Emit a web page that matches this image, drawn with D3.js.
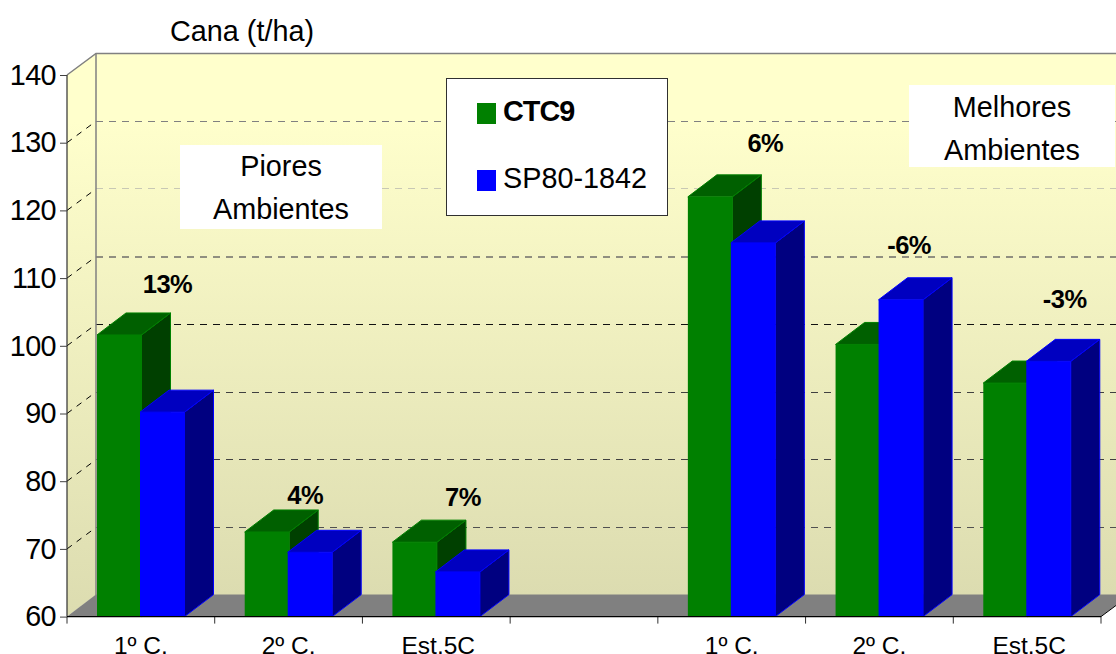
<!DOCTYPE html>
<html>
<head>
<meta charset="utf-8">
<script src="https://cdn.jsdelivr.net/npm/d3@7"></script>
<style>
  html, body { margin: 0; padding: 0; background: #fff; overflow: hidden; }
  svg { display: block; font-family: "Liberation Sans", Arial, sans-serif; }
  .domain { display: none; }
</style>
</head>
<body>
<div id="chart-wrapper"></div>
<script>
// Chart data
const categories = ["1º C.", "2º C.", "Est.5C", "", "1º C.", "2º C.", "Est.5C"];
const seriesNames = ["CTC9", "SP80-1842"];
const ctc9 = [101.6, 72.5, 71, null, 122, 100.2, 94.5];
const sp80 = [90.2, 69.5, 66.6, null, 115.2, 106.8, 97.7];
const diffLabels = ["13%", "4%", "7%", "", "6%", "-6%", "-3%"];
const yTicks = [60, 70, 80, 90, 100, 110, 120, 130, 140];

const initChart = () => {
  const fullWidth = 1116,
    fullHeight = 654,
    left = 67,
    right = 1101,
    top = 75,
    bottom = 616.6,
    depthX = 29,
    depthY = 21.5,
    barDepthY = 22;

  const svg = d3.select("#chart-wrapper").append("svg")
    .attr("width", fullWidth)
    .attr("height", fullHeight);

  const xScale = d3.scaleBand()
    .domain(d3.range(categories.length))
    .range([left, right]);

  const xSeries = d3.scalePoint()
    .domain(seriesNames)
    .range([30, 73]);

  const barWidth = 44.5;

  const yScale = d3.scaleLinear()
    .domain([60, 140])
    .range([bottom, top]);

  const defs = svg.append("defs");
  const grad = defs.append("linearGradient")
    .attr("id", "wall")
    .attr("x1", 0).attr("y1", 0).attr("x2", 0).attr("y2", 1);
  grad.append("stop").attr("offset", "0.12").attr("stop-color", "#ffffcc");
  grad.append("stop").attr("offset", "1").attr("stop-color", "#dcdcb0");

  // Back wall, side wall and floor
  svg.append("rect")
    .attr("x", left + depthX)
    .attr("y", top - depthY)
    .attr("width", fullWidth - left - depthX)
    .attr("height", bottom - top)
    .attr("fill", "url(#wall)");

  svg.append("polygon")
    .attr("points", [
      [left, top], [left + depthX, top - depthY],
      [left + depthX, bottom - depthY], [left, bottom]
    ].join(" "))
    .attr("fill", "url(#wall)");

  svg.append("polygon")
    .attr("points", [
      [left, bottom], [left + depthX, bottom - barDepthY],
      [right + depthX, bottom - barDepthY], [right, bottom]
    ].join(" "))
    .attr("fill", "#808080");

  // Grid lines, the originals look lighter or darker from how they were rasterised
  const gridColor = { 130: "#808080", 120: "#c8c8b4", 110: "#908f80", 100: "#101010", 90: "#404040", 80: "#404040", 70: "#505050" };
  const grid = svg.append("g").attr("fill", "none");
  yTicks.slice(1, -1).forEach(t => {
    grid.append("line")
      .attr("x1", left + depthX).attr("x2", fullWidth)
      .attr("y1", yScale(t) - depthY).attr("y2", yScale(t) - depthY)
      .attr("stroke", gridColor[t])
      .attr("stroke-width", t === 110 ? 2 : 1)
      .attr("shape-rendering", "crispEdges")
      .attr("stroke-dasharray", "7 6");
    grid.append("line")
      .attr("x1", left).attr("x2", left + depthX)
      .attr("y1", yScale(t)).attr("y2", yScale(t) - depthY)
      .attr("stroke", "#000")
      .attr("stroke-dasharray", "6 6");
  });

  // Wall outlines
  svg.append("path")
    .attr("d", d3.line()([
      [left, top], [left + depthX, top - depthY],
      [fullWidth, top - depthY]
    ]))
    .attr("fill", "none")
    .attr("stroke", "#808080")
    .attr("stroke-width", 1.5);
  svg.append("line")
    .attr("x1", left + depthX).attr("x2", left + depthX)
    .attr("y1", top - depthY).attr("y2", bottom - depthY)
    .attr("stroke", "#808080")
    .attr("stroke-width", 1.5);
  svg.append("line")
    .attr("x1", left).attr("x2", left)
    .attr("y1", top).attr("y2", bottom)
    .attr("stroke", "#303030")
    .attr("stroke-width", 1.2);
  svg.append("line")
    .attr("x1", right).attr("x2", fullWidth)
    .attr("y1", bottom).attr("y2", bottom - (fullWidth - right) * depthY / depthX)
    .attr("stroke", "#000");

  // 3D bars
  const seriesStyle = [
    { name: seriesNames[0], values: ctc9, front: "#008000", topFace: "#006000", side: "#004000", edge: "#008000" },
    { name: seriesNames[1], values: sp80, front: "#0000ff", topFace: "#0000c0", side: "#000080", edge: "#0000ff" }
  ];

  const barGroups = svg.append("g").selectAll("g")
    .data(d3.range(categories.length).filter(i => ctc9[i] !== null))
    .enter()
    .append("g");

  barGroups.each(function (i) {
    const g = d3.select(this);
    seriesStyle.forEach(s => {
      const x0 = xScale(i) + xSeries(s.name),
        x1 = x0 + barWidth,
        y0 = yScale(s.values[i]);
      g.append("polygon")
        .attr("points", [[x1, y0], [x1 + depthX, y0 - barDepthY], [x1 + depthX, bottom - barDepthY], [x1, bottom]].join(" "))
        .attr("fill", s.side).attr("stroke", s.edge);
      g.append("polygon")
        .attr("points", [[x0, y0], [x0 + depthX, y0 - barDepthY], [x1 + depthX, y0 - barDepthY], [x1, y0]].join(" "))
        .attr("fill", s.topFace).attr("stroke", s.edge);
      g.append("rect")
        .attr("x", x0).attr("y", y0)
        .attr("width", barWidth).attr("height", bottom - y0)
        .attr("fill", s.front);
    });
  });

  // Axes
  const yAxis = svg.append("g")
    .attr("transform", `translate(${left},0)`)
    .call(d3.axisLeft(yScale).tickValues(yTicks).tickSize(7).tickPadding(2));
  yAxis.selectAll("line").attr("stroke", "#404040");
  yAxis.selectAll("text")
    .attr("font-size", 28.8)
    .attr("font-family", "Liberation Sans")
    .attr("fill", "#000")
    .attr("dx", -2)
    .style("letter-spacing", "-0.6px");

  const xAxis = svg.append("g")
    .attr("transform", `translate(0,${bottom})`)
    .call(d3.axisBottom(xScale).tickSize(0).tickPadding(20).tickFormat(i => categories[i]));
  xAxis.selectAll("text")
    .attr("font-size", 24.5)
    .attr("font-family", "Liberation Sans")
    .attr("dx", i => categories[i].startsWith("Est") ? 2 : 0)
    .attr("fill", "#000");

  const edgeTicks = d3.range(categories.length).map(i => xScale(i)).concat(right);
  svg.append("g").selectAll("line")
    .data(edgeTicks)
    .enter()
    .append("line")
    .attr("x1", d => d).attr("x2", d => d)
    .attr("y1", bottom).attr("y2", bottom + 7)
    .attr("stroke", "#303030");
  svg.append("line")
    .attr("x1", left).attr("x2", right)
    .attr("y1", bottom).attr("y2", bottom)
    .attr("stroke", "#000")
    .attr("stroke-width", 1.2);

  // Percent labels sit a hand placed distance from the taller bar
  const labelShift = [[0, 29], [-10, 14.5], [0, 23.5], null, [7, 32], [-40, 32.5], [-32, 40.5]];
  svg.append("g").selectAll("text")
    .data(d3.range(categories.length).filter(i => diffLabels[i] !== ""))
    .enter()
    .append("text")
    .attr("x", i => xScale(i) + xSeries(seriesNames[0]) + barWidth + depthX - 3 + labelShift[i][0] + (ctc9[i] < sp80[i] ? 43 : 0))
    .attr("y", i => yScale(Math.max(ctc9[i], sp80[i])) - barDepthY - labelShift[i][1])
    .attr("dy", "0.35em")
    .attr("text-anchor", "middle")
    .attr("font-size", 25.5)
    .attr("font-weight", "bold")
    .attr("letter-spacing", "-0.5")
    .text(i => diffLabels[i]);

  // Title
  svg.append("text")
    .attr("x", 170).attr("y", 41)
    .attr("font-size", 28.8)
    .text("Cana (t/ha)");

  // Text boxes
  const noteBox = (x, y, w, h, firstLine, lines) => {
    svg.append("rect").attr("x", x).attr("y", y).attr("width", w).attr("height", h).attr("fill", "#fff");
    lines.forEach((l, i) => {
      svg.append("text")
        .attr("x", x + w / 2)
        .attr("y", firstLine + i * 43)
        .attr("dy", "0.35em")
        .attr("text-anchor", "middle")
        .attr("font-size", 28.8)
        .text(l);
    });
  };
  noteBox(180, 145, 202, 84, 166, ["Piores", "Ambientes"]);
  noteBox(909, 85, 206, 82, 107, ["Melhores", "Ambientes"]);

  // Legend
  svg.append("rect")
    .attr("x", 446.5).attr("y", 78.5)
    .attr("width", 221).attr("height", 137)
    .attr("fill", "#fff")
    .attr("stroke", "#303030");
  const legendRows = svg.append("g").selectAll("g")
    .data(seriesStyle)
    .enter()
    .append("g")
    .attr("transform", (d, i) => `translate(477,${103 + i * 67})`);
  legendRows.append("rect")
    .attr("width", 19).attr("height", 21)
    .attr("fill", d => d.front);
  legendRows.append("text")
    .attr("x", 26).attr("y", 18)
    .attr("font-size", 28.8)
    .attr("font-weight", (d, i) => i === 0 ? "bold" : "normal")
    .attr("letter-spacing", (d, i) => i === 0 ? "-1" : "0")
    .text(d => d.name);
}

// Init chart on page load
window.onload = () => {
  initChart();
}
</script>
</body>
</html>
